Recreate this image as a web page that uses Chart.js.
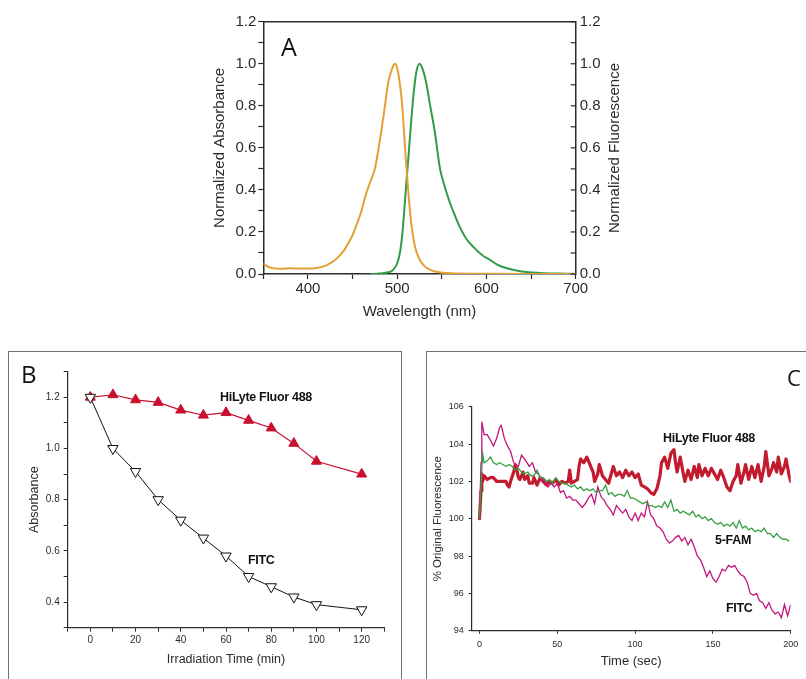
<!DOCTYPE html>
<html>
<head>
<meta charset="utf-8">
<script src="https://cdn.jsdelivr.net/npm/chart.js@4.4.1/dist/chart.umd.min.js"></script>
<style>
html,body{margin:0;padding:0;background:#fff;}
body{width:806px;height:679px;position:relative;overflow:hidden;}
canvas{position:absolute;}
.box{position:absolute;border:1px solid #707070;box-sizing:border-box;}
.lbl{position:absolute;font-family:"Liberation Sans",Arial,sans-serif;font-weight:bold;font-size:12.5px;line-height:1;color:#111;white-space:nowrap;letter-spacing:-0.3px;}
.pan{position:absolute;font-family:"Open Sans",sans-serif;line-height:1;color:#111;}
.rtitle{position:absolute;left:514px;top:139px;width:200px;height:18px;line-height:18px;text-align:center;
  font-family:"Liberation Sans",Arial,sans-serif;font-size:15px;color:#2b2b2b;transform:rotate(-90deg);white-space:nowrap;}
</style>
</head>
<body>
<div class="box" style="left:8px;top:351px;width:394px;height:340px"></div>
<div class="box" style="left:426px;top:351px;width:400px;height:340px"></div>

<canvas id="cA" width="440" height="330" style="left:200px;top:0;width:440px;height:330px"></canvas>
<canvas id="cB" width="385" height="320" style="left:20px;top:355px;width:385px;height:320px"></canvas>
<canvas id="cC" width="376" height="324" style="left:430px;top:355px;width:376px;height:324px"></canvas>

<div class="rtitle">Normalized Fluorescence</div>
<div class="pan" style="left:281px;top:34px;font-size:25px">A</div>
<div class="pan" style="left:21px;top:362px;font-size:24px">B</div>
<div class="pan" style="left:787px;top:366px;font-size:22px">C</div>

<div class="lbl" style="left:220px;top:391px">HiLyte Fluor 488</div>
<div class="lbl" style="left:248px;top:554px">FITC</div>
<div class="lbl" style="left:663px;top:432px">HiLyte Fluor 488</div>
<div class="lbl" style="left:715px;top:534px">5-FAM</div>
<div class="lbl" style="left:726px;top:602px">FITC</div>

<script>
// --- panel A: normalized spectra
const absWl  = [350,355,360,370,380,390,400,410,420,430,436,440,445,450,455,460,465,470,475,480,485,490,495,497.5,500,505,510,515,520,525,530,537,545,560,600,650,700];
const absVal = [0.05,0.035,0.028,0.025,0.027,0.026,0.026,0.029,0.04,0.065,0.09,0.11,0.145,0.185,0.24,0.30,0.38,0.44,0.50,0.62,0.76,0.91,0.985,1.0,0.98,0.83,0.53,0.27,0.13,0.07,0.04,0.02,0.01,0.004,0.001,0,0];
const flWl   = [470,480,490,495,500,503,505,507,510,512.5,515,518,521,525,528,532,537,542,548,553,559,565,570,577,585,595,604,612,623,635,645,660,680,700];
const flVal  = [0,0.002,0.008,0.018,0.05,0.1,0.16,0.25,0.42,0.55,0.69,0.84,0.95,1.0,0.98,0.92,0.8,0.68,0.5,0.42,0.34,0.275,0.225,0.17,0.13,0.09,0.067,0.045,0.027,0.015,0.009,0.005,0.002,0];

// --- panel B: absorbance vs irradiation time
const irrTime   = [0,10,20,30,40,50,60,70,80,90,100,120];
const hiAbs     = [1.20,1.21,1.19,1.18,1.15,1.13,1.14,1.11,1.08,1.02,0.95,0.90];
const fitcAbs   = [1.20,1.00,0.91,0.80,0.72,0.65,0.58,0.50,0.46,0.42,0.39,0.37];

// --- panel C: % original fluorescence vs time, [sec, %]
const hlData = [[0,100],[1,101.5],[1.5,102.4],[2,102.0],[3,102.3],[5,102.1],[7,102.2],[9,102.2],[11,102.0],[13,102.0],[15,102.0],[17,102.0],[18,101.8],[19,101.7],[20,102.0],[22,102.5],[23,102.9],[24,102.6],[25,102.2],[26,102.1],[28,102.5],[29,102.1],[31,102.3],[32,101.9],[34,101.9],[35,102.2],[37,101.8],[39,102.2],[41,102.0],[43,101.8],[45,102.0],[47,101.9],[49,102.1],[51,101.8],[53,102.0],[55,101.9],[57,102.0],[58,102.6],[59,101.9],[61,102.0],[63,102.1],[64,102.8],[65,103.2],[67,103.0],[69,103.3],[71,102.9],[73,102.5],[74,102.0],[76,102.4],[77,102.9],[79,102.3],[81,102.1],[83,101.9],[85,102.5],[86,102.8],[88,102.3],[90,102.5],[92,102.2],[94,102.6],[96,102.3],[98,102.5],[100,102.2],[102,102.4],[104,101.8],[106,101.7],[108,101.6],[110,101.4],[112,101.3],[114,101.6],[116,102.3],[117,103.0],[119,103.3],[121,102.7],[123,103.5],[125,103.7],[126,103.0],[127,102.5],[129,103.3],[131,102.4],[132,102.0],[134,102.6],[136,102.1],[138,102.8],[140,102.2],[141,102.9],[143,102.3],[145,102.7],[147,102.3],[149,102.7],[151,102.4],[153,102.1],[155,102.6],[157,102.2],[159,101.7],[161,101.5],[163,102.0],[165,102.3],[166,102.9],[168,101.9],[170,102.5],[171,102.9],[173,102.1],[175,102.8],[177,102.2],[179,102.9],[181,102.0],[183,102.8],[184,103.6],[186,102.3],[188,102.7],[189,103.0],[191,102.5],[192,103.3],[194,102.4],[196,102.8],[197,103.2],[199,102.3],[200,102.0]];
const fitcData = [[0,100],[1,103],[1.5,105.2],[3,104.5],[5,104.5],[7,104.2],[9,103.9],[11,104.3],[13,104.9],[14,105.0],[16,104.3],[18,103.9],[20,103.6],[22,103.0],[25,102.8],[27,103.4],[29,103.2],[32,102.8],[34,103.0],[36,102.5],[38,102.4],[40,102.0],[42,102.1],[44,101.7],[46,101.9],[48,101.7],[50,101.9],[52,101.4],[54,101.5],[56,101.1],[58,101.2],[60,101.0],[62,101.0],[64,100.8],[66,100.6],[68,100.8],[70,101.1],[72,101.3],[74,100.8],[76,101.7],[78,101.2],[80,101.0],[82,100.7],[84,100.5],[86,100.2],[88,100.7],[90,100.5],[92,100.3],[94,100.5],[96,100.1],[98,99.9],[100,100.3],[102,99.9],[104,100.3],[106,100.1],[108,100.9],[110,100.2],[112,100.0],[114,99.6],[116,99.5],[118,99.3],[120,98.9],[122,98.7],[124,98.8],[126,99.0],[128,99.1],[130,98.8],[132,99.0],[134,98.6],[136,98.9],[138,98.5],[140,98.0],[142,97.8],[144,97.4],[146,96.9],[148,97.2],[150,96.8],[152,96.6],[154,96.9],[156,97.3],[158,97.2],[160,97.5],[162,97.4],[164,97.5],[166,97.2],[168,97.0],[170,96.9],[172,96.6],[174,96.0],[176,95.9],[178,96.0],[180,95.6],[182,95.5],[184,95.2],[186,95.5],[188,95.1],[190,94.9],[192,95.0],[194,94.7],[196,95.4],[198,94.8],[200,95.4]];
const famData = [[0,100],[2,103.5],[3,103.0],[5,103.1],[7,103.3],[9,103.0],[11,102.9],[13,103.0],[15,102.9],[17,102.8],[19,102.9],[21,102.8],[23,102.6],[25,102.7],[27,102.5],[29,102.4],[31,102.5],[33,102.3],[35,102.3],[37,102.6],[39,102.2],[41,102.2],[43,102.0],[45,102.1],[47,101.9],[49,102.2],[51,102.0],[53,101.9],[55,101.9],[57,101.8],[59,101.7],[61,101.8],[63,101.6],[65,101.7],[67,101.5],[69,101.6],[71,101.5],[73,101.6],[75,101.4],[77,101.5],[79,101.5],[81,101.8],[83,101.3],[85,101.4],[87,101.2],[89,101.3],[91,101.3],[93,101.2],[95,101.5],[97,101.1],[99,101.1],[101,101.0],[103,100.9],[105,100.8],[107,100.9],[109,100.7],[111,100.7],[113,100.6],[115,100.7],[117,100.6],[119,100.9],[121,100.6],[123,101.0],[125,100.4],[127,100.5],[129,100.3],[131,100.4],[133,100.3],[135,100.2],[137,100.4],[139,100.1],[141,100.2],[143,100.0],[145,100.1],[147,99.9],[149,100.0],[151,99.8],[153,99.7],[155,99.8],[157,99.6],[159,99.7],[161,99.6],[163,99.8],[165,99.5],[167,99.9],[169,99.5],[171,99.6],[173,99.4],[175,99.5],[177,99.3],[179,99.4],[181,99.3],[183,99.5],[185,99.2],[187,99.2],[189,99.0],[191,99.2],[193,99.0],[195,98.9],[197,98.9],[199,98.8]];

Chart.defaults.font.family = '"Liberation Sans", Arial, sans-serif';
Chart.defaults.animation = false;
Chart.defaults.events = [];
Chart.defaults.plugins.legend.display = false;
Chart.defaults.plugins.tooltip.enabled = false;

const ink = '#2b2b2b';
const xy = (xs,ys) => xs.map((x,i)=>({x, y:ys[i]}));
const pairs = arr => arr.map(p=>({x:p[0], y:p[1]}));
const even = v => Math.round(v*10)%2===0;

// box top + inward ticks on right axis (panel A)
const frameA = {
  id:'frameA',
  afterDraw(chart){
    const {ctx, chartArea:a} = chart, s = chart.scales.y1;
    ctx.save(); ctx.strokeStyle = ink; ctx.lineWidth = 1.5;
    ctx.beginPath(); ctx.moveTo(a.left,a.top); ctx.lineTo(a.right,a.top); ctx.stroke();
    ctx.lineWidth = 1.2;
    s.ticks.forEach(t=>{ const y=s.getPixelForValue(t.value); ctx.beginPath(); ctx.moveTo(a.right,y); ctx.lineTo(a.right-5,y); ctx.stroke(); });
    ctx.restore();
  }
};

const fA = {size:15};
const axA = (extra) => Object.assign({
  grid:{drawOnChartArea:false, tickLength:5, tickColor:ink, tickWidth:1.2},
  border:{display:true, color:ink, width:1.5},
}, extra);

new Chart(document.getElementById('cA'), {
  type:'line',
  data:{datasets:[
    {data:xy(absWl,absVal), yAxisID:'y', borderColor:'#E3A134', borderWidth:2, pointRadius:0, cubicInterpolationMode:'monotone'},
    {data:xy(flWl,flVal), yAxisID:'y1', borderColor:'#2F9C48', borderWidth:2, pointRadius:0, cubicInterpolationMode:'monotone'}
  ]},
  options:{
    responsive:false,
    layout:{padding:{top:21.7, left:0, right:0, bottom:0}},
    scales:{
      x: axA({type:'linear', min:350, max:700,
        ticks:{stepSize:50, autoSkip:false, maxRotation:0, padding:1, color:ink, font:fA, callback:v=> (v%100===0 && v>350) ? v : ''},
        title:{display:true, text:'Wavelength (nm)', color:ink, font:fA, padding:{top:0,bottom:9}},
        afterFit:s=>{ s.height = 56; }}),
      y: axA({position:'left', min:0, max:1.2,
        ticks:{stepSize:0.1, autoSkip:false, padding:2, color:ink, font:fA, callback:v=> even(v) ? v.toFixed(1) : ''},
        title:{display:true, text:'Normalized Absorbance', color:ink, font:fA, padding:{top:11,bottom:0}},
        afterFit:s=>{ s.width = 63.3; }}),
      y1: axA({position:'right', min:0, max:1.2,
        grid:{drawOnChartArea:false, drawTicks:false},
        ticks:{stepSize:0.1, autoSkip:false, padding:4, color:ink, font:fA, callback:v=> even(v) ? v.toFixed(1) : ''},
        afterFit:s=>{ s.width = 64.3; }})
    }
  },
  plugins:[frameA]
});

// panel B
const fBt = {size:10};
const fBa = {size:12.5};
new Chart(document.getElementById('cB'), {
  type:'line',
  data:{datasets:[
    {data:xy(irrTime,fitcAbs), borderColor:'#111', borderWidth:1, pointStyle:'triangle', rotation:180, pointRadius:6,
      pointBackgroundColor:'#fff', pointBorderColor:'#111', pointBorderWidth:1},
    {data:xy(irrTime,hiAbs), borderColor:'#C8102E', borderWidth:1.2, pointStyle:'triangle', pointRadius:5.8,
      pointBackgroundColor:'#C8102E', pointBorderColor:'#C8102E', pointBorderWidth:1}
  ]},
  options:{
    responsive:false,
    layout:{padding:{top:16.7, left:0, right:20.7, bottom:0}},
    scales:{
      x:{type:'linear', min:-10, max:130,
        grid:{drawOnChartArea:false, tickLength:4, tickColor:ink, tickWidth:1},
        border:{display:true, color:ink, width:1.2},
        ticks:{stepSize:10, autoSkip:false, maxRotation:0, padding:3, color:ink, font:fBt, callback:v=> (v>=0 && v<=120 && v%20===0) ? v : ''},
        title:{display:true, text:'Irradiation Time (min)', color:ink, font:fBa, padding:{top:0,bottom:7.5}},
        afterFit:s=>{ s.height = 47.3; }},
      y:{min:0.3, max:1.3,
        grid:{drawOnChartArea:false, tickLength:4, tickColor:ink, tickWidth:1},
        border:{display:true, color:ink, width:1.2},
        ticks:{stepSize:0.1, autoSkip:false, padding:4, color:ink, font:fBt, callback:v=> (even(v) && v>0.35 && v<1.25) ? v.toFixed(1) : ''},
        title:{display:true, text:'Absorbance', color:ink, font:fBa, padding:{top:7.5,bottom:0}},
        afterFit:s=>{ s.width = 47.7; }}
    }
  }
});

// panel C
const fCt = {size:9};
new Chart(document.getElementById('cC'), {
  type:'line',
  data:{datasets:[
    {data:pairs(famData), borderColor:'#35A142', borderWidth:1.3, pointRadius:0},
    {data:pairs(fitcData), borderColor:'#C4157E', borderWidth:1.3, pointRadius:0},
    {data:pairs(hlData), borderColor:'#C21B2F', borderWidth:3.2, pointRadius:0, borderJoinStyle:'round', borderCapStyle:'round'}
  ]},
  options:{
    responsive:false,
    layout:{padding:{top:51.7, left:0, right:15.3, bottom:0}},
    scales:{
      x:{type:'linear', min:-5, max:200,
        grid:{drawOnChartArea:false, tickLength:3, tickColor:ink, tickWidth:1},
        border:{display:true, color:ink, width:1.2},
        ticks:{stepSize:50, includeBounds:false, autoSkip:false, maxRotation:0, padding:5, color:ink, font:fCt},
        title:{display:true, text:'Time (sec)', color:ink, font:{size:13}, padding:{top:0,bottom:10}},
        afterFit:s=>{ s.height = 48.3; }},
      y:{min:94, max:106,
        grid:{drawOnChartArea:false, tickLength:3, tickColor:ink, tickWidth:1},
        border:{display:true, color:ink, width:1.2},
        ticks:{stepSize:2, autoSkip:false, padding:5, color:ink, font:fCt},
        title:{display:true, text:'% Original Fluorescence', color:ink, font:{size:11.5}, padding:{top:1,bottom:0}},
        afterFit:s=>{ s.width = 41.7; }}
    }
  }
});
</script>
</body>
</html>
